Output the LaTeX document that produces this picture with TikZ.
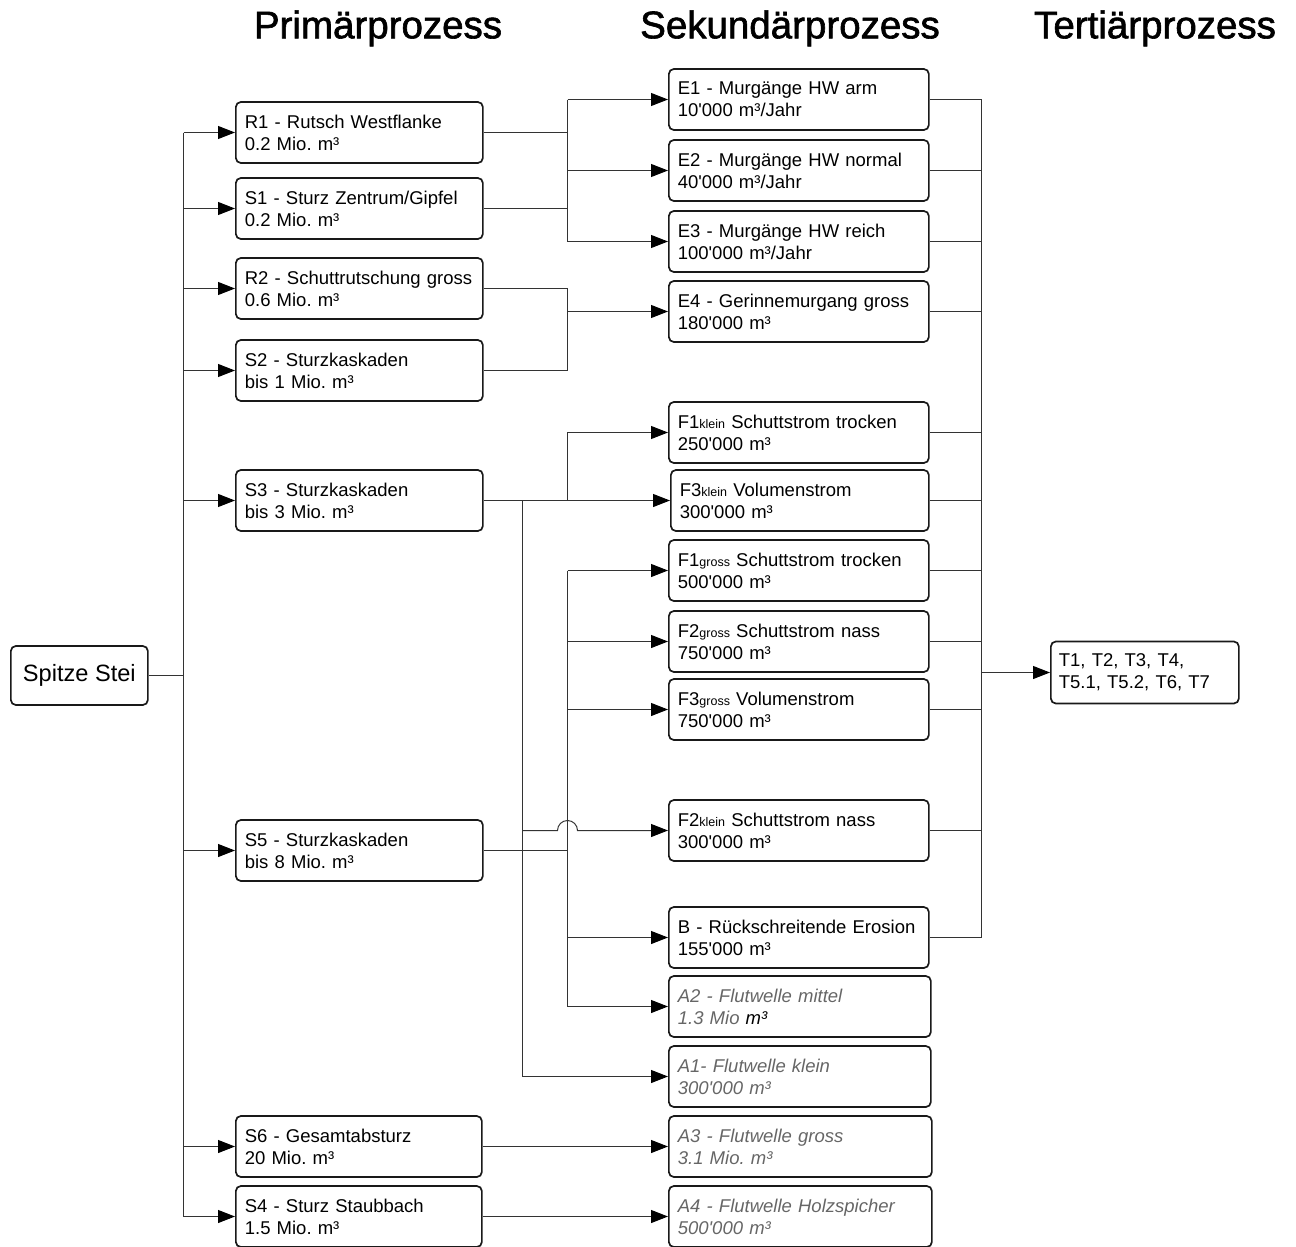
\documentclass[tikz,border=0pt]{standalone}
\usepackage{fontspec}
\setmainfont{Liberation Sans}[Ligatures=TeXOff]
\newfontfamily\titlefont{Liberation Sans}[Ligatures=TeXOff, FakeBold=1.6]
\usetikzlibrary{arrows.meta,calc}
\newcommand\subtxt[1]{{\fontsize{12.5}{14}\selectfont #1}}
\frenchspacing
\begin{document}
\frenchspacing
\begin{tikzpicture}[x=1pt,y=-1pt,
  box/.style={draw=black!90, line width=1.7pt, rounded corners=5pt, inner xsep=9pt, inner ysep=0pt,
    minimum height=61pt, text width=#1, align=left, anchor=west, font=\fontsize{18.5}{22}\selectfont},
  pbox/.style={box=229pt},
  sbox/.style={box=242pt},
  abox/.style={box=245pt, font=\fontsize{18.5}{22}\selectfont\itshape\color{black!60}},
  conn/.style={draw=black!80, line width=1pt},
  arr/.style={conn, -{Triangle[length=17pt,width=13pt,color=black,fill=black]}},
  title/.style={anchor=base, font=\titlefont\fontsize{38.5}{41}\selectfont}
]
\useasboundingbox (0,0) rectangle (1296,1247);

% titles
\node[title] (h1) at (378,38.3) {Primärprozess};
\node[title] (h2) at (790,38.3) {Sekundärprozess};
\node[title] (h3) at (1155,38.3) {Tertiärprozess};

% root
\node[draw=black!90, line width=1.7pt, rounded corners=5pt, minimum width=137pt, minimum height=59pt,
  inner sep=0pt, anchor=west, font=\fontsize{23.6}{26}\selectfont] (sp) at (10,675.5) {Spitze Stei};

% primary
\node[pbox] (R1) at (235,132.5) {R1 - Rutsch Westflanke\\0.2 Mio. m³};
\node[pbox] (S1) at (235,208.5) {S1 - Sturz Zentrum/Gipfel\\0.2 Mio. m³};
\node[pbox] (R2) at (235,288.5) {R2 - Schuttrutschung gross\\0.6 Mio. m³};
\node[pbox] (S2) at (235,370.5) {S2 - Sturzkaskaden\\bis 1 Mio. m³};
\node[pbox] (S3) at (235,500.5) {S3 - Sturzkaskaden\\bis 3 Mio. m³};
\node[pbox] (S5) at (235,850.5) {S5 - Sturzkaskaden\\bis 8 Mio. m³};
\node[pbox, text width=228pt] (S6) at (235,1146.5) {S6 - Gesamtabsturz\\20 Mio. m³};
\node[pbox, text width=228pt] (S4) at (235,1216.5) {S4 - Sturz Staubbach\\1.5 Mio. m³};

% secondary
\node[sbox] (E1) at (668,99.5) {E1 - Murgänge HW arm\\10'000 m³/Jahr};
\node[sbox] (E2) at (668,170.5) {E2 - Murgänge HW normal\\40'000 m³/Jahr};
\node[sbox] (E3) at (668,241.5) {E3 - Murgänge HW reich\\100'000 m³/Jahr};
\node[sbox] (E4) at (668,311.5) {E4 - Gerinnemurgang gross\\180'000 m³};
\node[sbox] (F1k) at (668,432.5) {F1\subtxt{klein} Schuttstrom trocken\\250'000 m³};
\node[sbox, text width=240pt] (F3k) at (670,500.5) {F3\subtxt{klein} Volumenstrom\\300'000 m³};
\node[sbox] (F1g) at (668,570.5) {F1\subtxt{gross} Schuttstrom trocken\\500'000 m³};
\node[sbox] (F2g) at (668,641.5) {F2\subtxt{gross} Schuttstrom nass\\750'000 m³};
\node[sbox] (F3g) at (668,709.5) {F3\subtxt{gross} Volumenstrom\\750'000 m³};
\node[sbox] (F2k) at (668,830.5) {F2\subtxt{klein} Schuttstrom nass\\300'000 m³};
\node[sbox] (B) at (668,937.5) {B - Rückschreitende Erosion\\155'000 m³};
\node[abox, text width=244pt] (A2) at (668,1006.5) {A2 - Flutwelle mittel\\1.3 Mio {\color{black}m³}};
\node[abox, text width=244pt] (A1) at (668,1076.5) {A1- Flutwelle klein\\300'000 m³};
\node[abox] (A3) at (668,1146.5) {A3 - Flutwelle gross\\3.1 Mio. m³};
\node[abox] (A4) at (668,1216.5) {A4 - Flutwelle Holzspicher\\500'000 m³};

% tertiary
\node[box=172pt, inner xsep=8pt, minimum height=62pt] (T) at (1050,672.5) {T1, T2, T3, T4,\\T5.1, T5.2, T6, T7};

% bus coordinates
\coordinate (xL) at (183.5,0);
\coordinate (xB) at (522.5,0);
\coordinate (xA) at (567.5,0);
\coordinate (xT) at (981.5,0);

% left bus
\draw[conn] (sp.east) -- (sp.east -| xL);
\draw[conn] (R1.west -| xL) -- (S4.west -| xL);
\foreach \n in {R1,S1,R2,S2,S3,S5,S6,S4}
  \draw[arr] (\n.west -| xL) -- (\n.west);

% R1, S1 -> E1..E3
\draw[conn] (R1.east) -- (R1.east -| xA);
\draw[conn] (S1.east) -- (S1.east -| xA);
\draw[conn] (E1.west -| xA) -- (E3.west -| xA);
\foreach \n in {E1,E2,E3}
  \draw[arr] (\n.west -| xA) -- (\n.west);

% R2, S2 -> E4
\draw[conn] (R2.east) -- (R2.east -| xA) -- (S2.east -| xA) -- (S2.east);
\draw[arr] (E4.west -| xA) -- (E4.west);

% S3
\draw[arr] (S3.east) -- (F3k.west);
\draw[arr] (S3.east -| xA) |- (F1k.west);
\draw[conn] (S3.east -| xB) -- (A1.west -| xB);
\draw[arr] (A1.west -| xB) -- (A1.west);
\draw[arr] (F2k.west -| xB) -- ($(F2k.west -| xA)+(-10,0)$) arc[start angle=180, end angle=0, radius=10pt] -- (F2k.west);

% S5
\draw[conn] (S5.east) -- (S5.east -| xA);
\draw[conn] (F1g.west -| xA) -- (A2.west -| xA);
\foreach \n in {F1g,F2g,F3g,B,A2}
  \draw[arr] (\n.west -| xA) -- (\n.west);

% S6, S4
\draw[arr] (S6.east) -- (A3.west);
\draw[arr] (S4.east) -- (A4.west);

% tertiary bus
\foreach \n in {E1,E2,E3,E4,F1k,F3k,F1g,F2g,F3g,F2k,B}
  \draw[conn] (\n.east) -- (\n.east -| xT);
\draw[conn] (E1.east -| xT) -- (E4.east -| xT);
\draw[conn, line width=1.6pt] (E4.east -| xT) -- (B.east -| xT);
\draw[arr] (T.west -| xT) -- (T.west);
\end{tikzpicture}
\end{document}
